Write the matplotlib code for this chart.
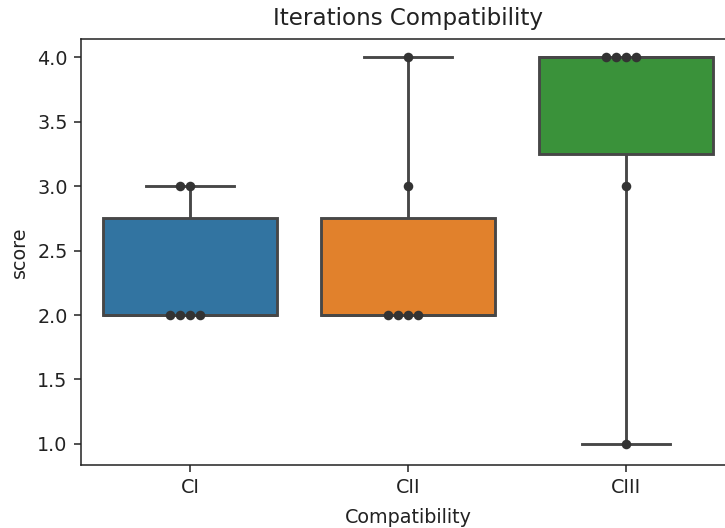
import matplotlib
matplotlib.use("Agg")
import matplotlib.pyplot as plt
import seaborn as sns
import pandas as pd

categories = ["CI", "CII", "CIII"]
scores_ci = [2, 2, 2, 2, 3, 3]
scores_cii = [2, 2, 2, 2, 3, 4]
scores_ciii = [1, 3, 4, 4, 4, 4]
yticks = [1.0, 1.5, 2.0, 2.5, 3.0, 3.5, 4.0]

rows = []
for cat, vals in zip(categories, [scores_ci, scores_cii, scores_ciii]):
    for v in vals:
        rows.append({"Compatibility": cat, "score": v})
df = pd.DataFrame(rows)

plt.rcParams["font.family"] = ["DejaVu Sans"]
s = 1.38
fig = plt.figure(figsize=(7.25, 5.28), dpi=100)
ax = fig.add_axes([81 / 725, 63 / 528, 654 / 725, 426 / 528])

palette = ["#1f77b4", "#ff7f0e", "#2ca02c"]
sns.boxplot(data=df, x="Compatibility", y="score", hue="Compatibility",
            palette=palette, saturation=0.75, whis=(0, 100), width=0.8,
            linewidth=1.5 * s, linecolor="#474747", legend=False, ax=ax,
            order=categories)
sns.swarmplot(data=df, x="Compatibility", y="score", color="#333333",
              size=5 * s, ax=ax, order=categories)

ax.set_yticks(yticks)
ax.set_yticklabels([f"{t:.1f}" for t in yticks])
ax.set_ylim(0.837, 4.14)
ax.set_xlim(-0.5, 2.5)
for sp in ax.spines.values():
    sp.set_linewidth(0.8 * s)
    sp.set_color("#222222")
ax.tick_params(labelsize=10 * s, length=3.5 * s, width=0.8 * s, pad=3.5 * s,
               colors="#222222")
ax.set_title("Iterations Compatibility", fontsize=12 * s, pad=6 * s + 1.5,
             color="#222222")
ax.set_xlabel("Compatibility", fontsize=10 * s, labelpad=4 * s + 2,
              color="#222222")
ax.set_ylabel("score", fontsize=10 * s, labelpad=4 * s, color="#222222")

fig.savefig("out.png", dpi=100)
